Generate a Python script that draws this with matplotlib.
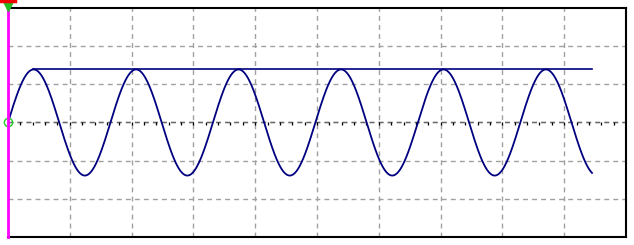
import numpy as np
import matplotlib
matplotlib.use("Agg")
import matplotlib.pyplot as plt

# screen in divisions (10 x 6)
x_divs = 10
y_divs = 6
amplitude = 1.39      # div, peak of the sine
period = 1.658        # div, one cycle
trace_end = 9.45      # div, where the trace stops
level_start = 0.41    # div, peak-level line starts at first peak
level_end = 9.45

t = np.linspace(0, trace_end, 1200)
trace = amplitude * np.sin(2 * np.pi * t / period)

fig = plt.figure(figsize=(6.34, 2.45), dpi=100)
ax = fig.add_axes([8 / 634, 8 / 245, 618 / 634, 229 / 245])
ax.set_xlim(0, x_divs)
ax.set_ylim(-y_divs / 2, y_divs / 2)

# dashed graticule
for gx in range(1, x_divs):
    ax.axvline(gx, color="#a0a0a0", lw=1, ls=(0, (3.5, 3)), zorder=1)
for gy in range(-2, 3):
    ax.axhline(gy, color="#a0a0a0", lw=1, ls=(0, (3.5, 3)), zorder=1)

# centre line with small ticks
ax.axhline(0, color="#6a6a6a", lw=1, ls=(0, (3.5, 3)), zorder=2)
ticks = np.arange(0.2, x_divs, 0.2)
ax.vlines(ticks, -0.06, 0, color="black", lw=0.9, zorder=2)

ax.plot(t, trace, color="#000080", lw=1.3, zorder=4)
ax.plot([level_start, level_end], [amplitude, amplitude], color="#000080", lw=1.2, zorder=4)

# ground marker at origin
ax.plot([0], [0], marker="o", ms=6, mfc="none", mec="#22cc22", mew=1, clip_on=False, zorder=5)

for s in ["top", "right", "bottom"]:
    ax.spines[s].set_color("black")
    ax.spines[s].set_linewidth(1.5)
ax.spines["left"].set_visible(False)
ax.set_xticks([])
ax.set_yticks([])

# magenta trigger line and marker on top
ax.plot([0, 0], [-3, 3.2], color="#ff00ff", lw=2, clip_on=False, zorder=6)
ax.plot([0], [3.09], marker="v", ms=9, color="#22bb22", clip_on=False, zorder=7)
ax.plot([-0.11, 0.11], [3.18, 3.18], color="#ee0000", lw=2.5, clip_on=False, zorder=8)

fig.savefig("out.png", dpi=100)
